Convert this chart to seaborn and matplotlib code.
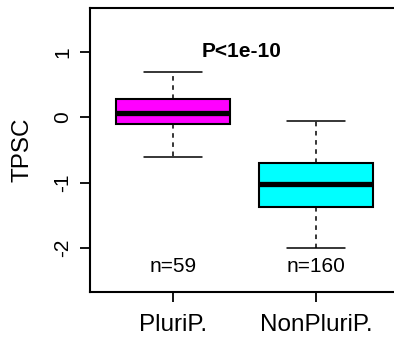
import matplotlib
matplotlib.use("Agg")
import matplotlib.pyplot as plt
import seaborn as sns
import pandas as pd

# Data (five-number summaries)
groups = ["PluriP.", "NonPluriP."]
pluri_vals = [-0.61, -0.107, 0.06, 0.275, 0.70]
nonpluri_vals = [-2.0, -1.37, -1.02, -0.70, -0.06]
counts = ["n=59", "n=160"]
colors = ["#FF00FF", "#00FFFF"]
pval_text = "P<1e-10"
yticks = [-2, -1, 0, 1]

df = pd.DataFrame({
    "group": [groups[0]] * len(pluri_vals) + [groups[1]] * len(nonpluri_vals),
    "TPSC": pluri_vals + nonpluri_vals,
})

sns.set_theme(style="ticks")
plt.rcParams["font.family"] = ["Liberation Sans", "DejaVu Sans"]
plt.rcParams.update({
    "text.color": "black", "axes.labelcolor": "black",
    "xtick.color": "black", "ytick.color": "black",
    "xtick.labelcolor": "black", "ytick.labelcolor": "black",
})

fig = plt.figure(figsize=(3.94, 3.4), dpi=100)
ax_w = 1 - 90 / 394 + 0.03
ax = fig.add_axes([90 / 394, 1 - 292 / 340, ax_w, (292 - 8) / 340])

sns.boxplot(
    data=df, x="group", y="TPSC", hue="group", palette=colors, legend=False,
    order=groups, hue_order=groups, saturation=1, width=0.8, whis=(0, 100),
    linecolor="black", linewidth=1.5, ax=ax,
    medianprops=dict(linewidth=3.8, color="black"),
    whiskerprops=dict(linestyle=(0, (3, 3)), linewidth=1.1),
    capprops=dict(linewidth=1.1),
)

ax.set_xlim(-0.58, 1.545 + 0.03 * 394 / 143)
ax.set_ylim(-2.673, 1.673)
ax.set_yticks(yticks)
ax.set_yticklabels([str(v) for v in yticks])

for sp in ["top", "left", "bottom"]:
    ax.spines[sp].set_linewidth(1.5)
    ax.spines[sp].set_color("black")
ax.spines["right"].set_visible(False)

ax.tick_params(axis="both", length=7, width=1.3, color="black", direction="out")
ax.tick_params(axis="y", labelsize=15, pad=6, labelrotation=90)
ax.tick_params(axis="x", labelsize=17.5, pad=9)
for lab in ax.get_yticklabels():
    lab.set_va("center")

ax.set_xlabel("")
ax.set_ylabel("TPSC", fontsize=17.5, color="black")
ax.yaxis.set_label_coords(-(90 - 34) / (ax_w * 394), 0.5)

ax.text(0.48, 1.0, pval_text, ha="center", va="center", fontsize=15,
        fontweight="bold", color="black")
for i, c in enumerate(counts):
    ax.text(i, -2.29, c, ha="center", va="center", fontsize=15, color="black")

fig.savefig("out.png", dpi=100)
